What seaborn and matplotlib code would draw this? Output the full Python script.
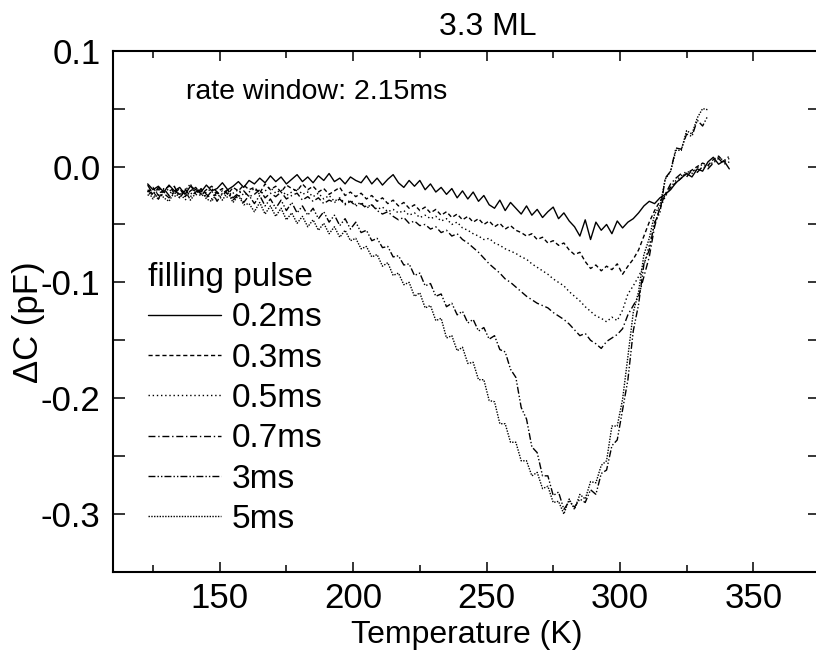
import numpy as np
import pandas as pd
import matplotlib
matplotlib.use("Agg")
import matplotlib.pyplot as plt
from matplotlib.ticker import MultipleLocator, FormatStrFormatter
import seaborn as sns

# Temperature grid (K), one reading every 2 K
temperature = np.arange(123, 342, 2)

# DLTS signal, in fF (1 fF = 0.001 pF)
dc_02ms = [-15, -20, -17, -22, -16, -21, -18, -24, -17, -20,
           -22, -16, -21, -19, -14, -20, -17, -13, -18, -12,
           -15, -10, -14, -8, -13, -9, -15, -11, -7, -13,
           -9, -14, -8, -12, -6, -13, -10, -15, -9, -12,
           -14, -8, -15, -10, -16, -11, -7, -14, -18, -12,
           -17, -12, -20, -15, -22, -18, -24, -19, -27, -21,
           -28, -22, -30, -25, -33, -36, -29, -38, -31, -36,
           -41, -34, -42, -37, -44, -39, -35, -45, -40, -47,
           -52, -60, -46, -63, -48, -55, -50, -58, -47, -53,
           -48, -45, -40, -34, -30, -32, -27, -24, -20, -14,
           -10, -6, -9, -2, -4, 4, 8, 2, 5, -2]
dc_03ms = [-22, -18, -25, -20, -17, -23, -19, -26, -21, -18,
           -24, -20, -17, -22, -19, -24, -18, -21, -16, -20,
           -18, -23, -15, -20, -17, -22, -16, -19, -21, -15,
           -20, -17, -22, -19, -24, -21, -18, -25, -22, -26,
           -23, -28, -25, -30, -27, -32, -29, -34, -31, -36,
           -33, -38, -35, -40, -37, -42, -39, -44, -41, -46,
           -43, -48, -45, -50, -47, -52, -49, -54, -51, -55,
           -57, -60, -58, -63, -61, -66, -64, -68, -66, -72,
           -76, -74, -82, -88, -85, -90, -86, -89, -84, -93,
           -86, -80, -72, -60, -48, -38, -30, -24, -18, -14,
           -10, -6, -3, 0, 3, 1, 6, 9, 4, 7]
dc_05ms = [-25, -21, -28, -23, -19, -26, -22, -29, -24, -20,
           -26, -22, -19, -24, -21, -27, -23, -20, -25, -22,
           -19, -24, -21, -18, -23, -20, -25, -22, -19, -24,
           -22, -26, -23, -28, -25, -30, -27, -32, -29, -33,
           -31, -35, -33, -37, -35, -39, -37, -40, -38, -42,
           -40, -44, -42, -45, -43, -47, -45, -50, -48, -53,
           -55, -58, -60, -63, -62, -66, -68, -71, -73, -75,
           -78, -80, -84, -87, -90, -93, -97, -100, -103, -108,
           -112, -116, -121, -125, -129, -131, -134, -130, -133, -124,
           -110, -103, -95, -85, -68, -50, -36, -26, -18, -12,
           -8, -4, -6, -1, 2, 0, 4, 8, 5, 9]
dc_07ms = [-20, -25, -18, -23, -27, -21, -24, -19, -26, -22,
           -19, -24, -28, -22, -25, -20, -27, -23, -21, -26,
           -24, -20, -27, -23, -26, -22, -28, -25, -23, -29,
           -26, -30, -27, -32, -29, -31, -28, -33, -30, -34,
           -32, -36, -33, -38, -41, -39, -43, -46, -44, -49,
           -47, -51, -50, -54, -52, -57, -55, -60, -58, -63,
           -66, -70, -74, -79, -84, -88, -92, -97, -100, -104,
           -108, -112, -115, -118, -120, -122, -126, -129, -132, -136,
           -141, -146, -144, -150, -153, -157, -151, -148, -145, -140,
           -128, -120, -112, -95, -78, -52, -35, -24, -15, -10,
           -6, -9, -3, -5, 0, -2, 3, 7, 2, 4]
dc_3ms = [-16, -24, -28, -19, -25, -17, -27, -21, -15, -25,
          -19, -27, -21, -30, -23, -20, -29, -24, -31, -25,
          -32, -25, -34, -28, -36, -29, -38, -31, -40, -34,
          -42, -36, -45, -39, -48, -42, -51, -45, -54, -48,
          -57, -55, -64, -62, -70, -69, -78, -77, -85, -84,
          -94, -92, -103, -101, -112, -110, -121, -118, -128, -125,
          -135, -132, -142, -139, -149, -146, -158, -160, -175, -182,
          -208, -218, -242, -247, -267, -267, -284, -281, -296, -289,
          -294, -287, -290, -279, -283, -265, -262, -241, -236, -210,
          -184, -142, -119, -84, -72, -48, -40, -10, -4, 16,
          15, 28, 26, 40, 35, 44]
dc_5ms = [-21, -28, -19, -27, -30, -22, -27, -20, -29, -23,
          -20, -28, -30, -23, -29, -22, -31, -25, -33, -32,
          -39, -31, -41, -34, -43, -36, -46, -40, -49, -43,
          -52, -46, -55, -49, -58, -52, -61, -55, -64, -62,
          -71, -69, -78, -76, -86, -83, -94, -92, -102, -100,
          -112, -109, -122, -120, -133, -131, -148, -146, -159, -156,
          -170, -169, -184, -184, -202, -203, -222, -222, -238, -238,
          -254, -254, -267, -264, -278, -276, -290, -289, -300, -287,
          -296, -283, -287, -272, -273, -258, -254, -224, -224, -201,
          -164, -126, -108, -76, -62, -41, -34, -11, -4, 14,
          14, 31, 28, 42, 50, 49]

pulse_labels = ["0.2ms", "0.3ms", "0.5ms", "0.7ms", "3ms", "5ms"]
signals = [dc_02ms, dc_03ms, dc_05ms, dc_07ms, dc_3ms, dc_5ms]
dash_styles = ["", (3, 2), (1, 2), (5, 2, 1, 2), (5, 1.5, 1, 1.5, 1, 1.5), (1, 1)]

frames = []
for lab, sig in zip(pulse_labels, signals):
    frames.append(pd.DataFrame({"T": temperature[:len(sig)],
                                "dC": np.array(sig) / 1000.0,
                                "pulse": lab}))
df = pd.concat(frames, ignore_index=True)

sns.set_style("ticks")
plt.rcParams["font.family"] = ["Liberation Sans", "DejaVu Sans"]
plt.rcParams["axes.unicode_minus"] = False
plt.rcParams["text.color"] = "black"
plt.rcParams["axes.labelcolor"] = "black"
plt.rcParams["xtick.color"] = "black"
plt.rcParams["ytick.color"] = "black"

fig = plt.figure(figsize=(8.16, 6.6), dpi=100)
ax = fig.add_axes([113 / 816, 88 / 660, 707 / 816, 521.3 / 660])

sns.lineplot(data=df, x="T", y="dC", hue="pulse", style="pulse",
             palette=["black"] * 6, dashes=dict(zip(pulse_labels, dash_styles)),
             hue_order=pulse_labels, style_order=pulse_labels,
             linewidth=1.0, estimator=None, sort=False, ax=ax)

ax.set_xlim(110, 375)
ax.set_ylim(-0.35, 0.1)
ax.xaxis.set_major_locator(MultipleLocator(50))
ax.xaxis.set_minor_locator(MultipleLocator(25))
ax.yaxis.set_major_locator(MultipleLocator(0.1))
ax.yaxis.set_minor_locator(MultipleLocator(0.05))
ax.yaxis.set_major_formatter(FormatStrFormatter("%.1f"))
ax.tick_params(axis="both", which="both", direction="in", top=True, right=True,
               width=1.1, labelsize=25, colors="black")
ax.tick_params(axis="x", which="major", length=7.5, pad=7)
ax.tick_params(axis="x", which="minor", length=5)
ax.tick_params(axis="y", which="both", length=8.5, pad=9)
for sp in ax.spines.values():
    sp.set_linewidth(1.5)
    sp.set_color("black")

ax.set_xlabel("Temperature (K)", fontsize=23, labelpad=4)
ax.set_ylabel("\u0394C (pF)", fontsize=25)
ax.yaxis.set_label_coords(-0.0955, 0.48)

fig.text(0.598, 0.947, "3.3 ML", fontsize=23, ha="center", va="baseline")
ax.text(0.103, 0.907, "rate window: 2.15ms", fontsize=20.5,
        transform=ax.transAxes, va="baseline")

handles, labels = ax.get_legend_handles_labels()
leg = ax.legend(handles, labels, title="filling pulse", loc="upper left",
                bbox_to_anchor=(148 / 816, 1 - 262 / 660),
                bbox_transform=fig.transFigure, frameon=False,
                fontsize=24, title_fontsize=24, alignment="left",
                borderpad=0, borderaxespad=0, handlelength=2.2,
                handletextpad=0.3, labelspacing=0.28)

fig.savefig("out.png", dpi=100)
